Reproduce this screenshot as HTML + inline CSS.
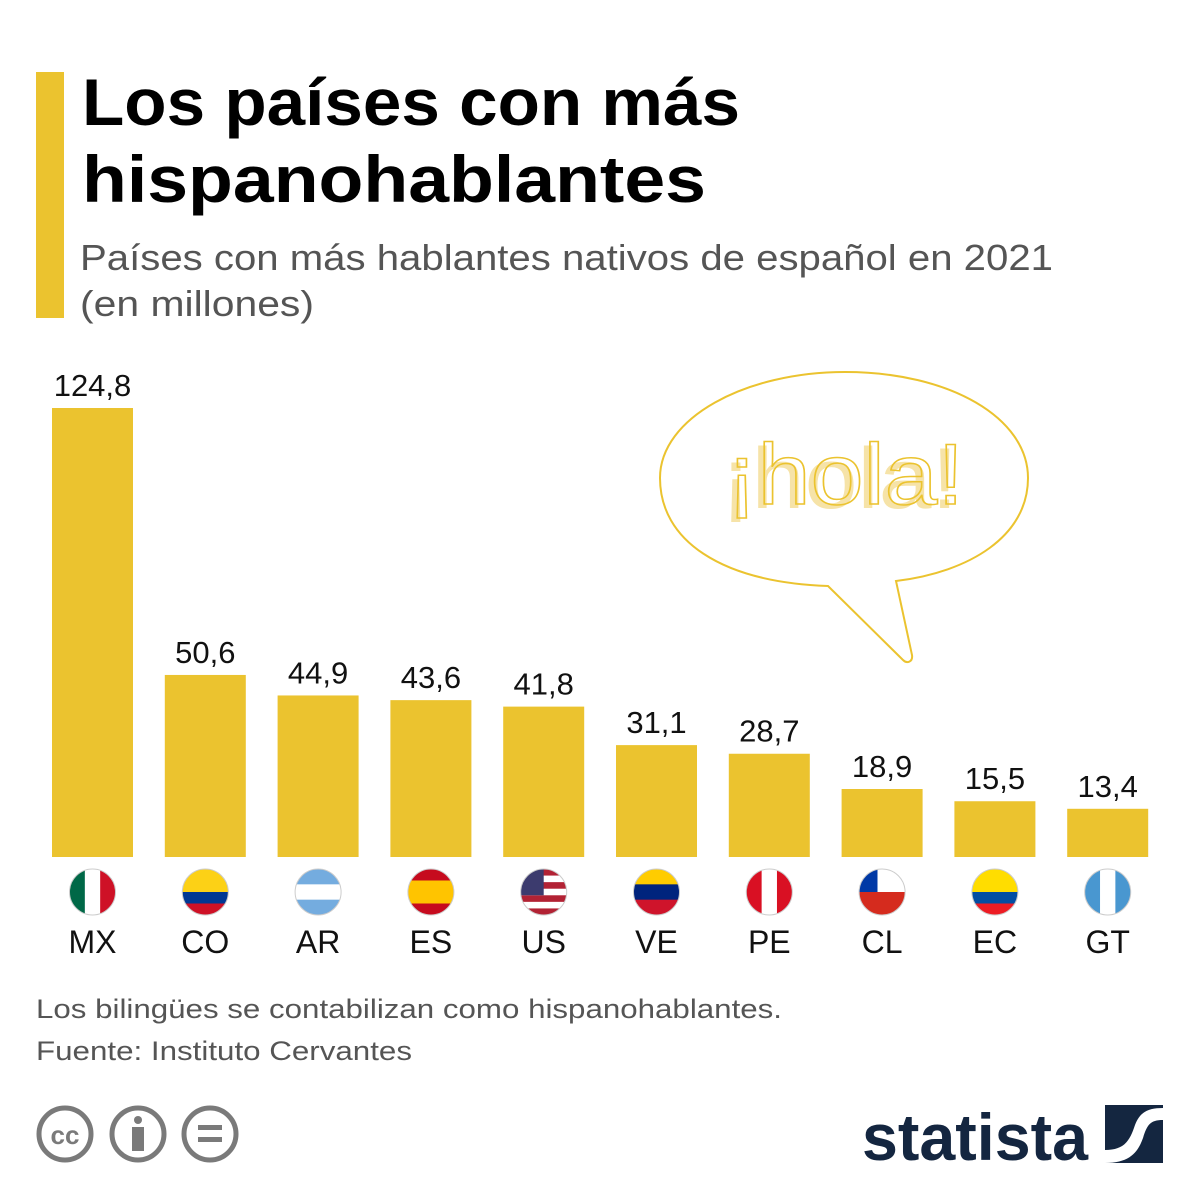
<!DOCTYPE html>
<html><head><meta charset="utf-8"><style>
body{margin:0;width:1200px;height:1200px;background:#fff;overflow:hidden;font-family:"Liberation Sans",sans-serif;}
svg{display:block}
</style></head><body>
<svg id="chart" width="1200" height="1200" xmlns="http://www.w3.org/2000/svg">
<rect x="36" y="72" width="28" height="246" fill="#EBC32F"/>
<text x="82" y="125" font-size="66" font-weight="bold" fill="#000" textLength="658" lengthAdjust="spacingAndGlyphs">Los países con más</text>
<text x="82" y="202" font-size="66" font-weight="bold" fill="#000" textLength="624" lengthAdjust="spacingAndGlyphs">hispanohablantes</text>
<text x="80" y="270" font-size="36" fill="#555" textLength="973" lengthAdjust="spacingAndGlyphs">Países con más hablantes nativos de español en 2021</text>
<text x="80" y="316" font-size="36" fill="#555" textLength="234" lengthAdjust="spacingAndGlyphs">(en millones)</text>
<g id="bars"></g>
<g>
<path d="M828,586 C720,582 660,540 660,478 C660,418 745,372 845,372 C950,372 1028,418 1028,478 C1028,536 970,572 896,581 L912,655 C913,662 907,664 903,660 Z" fill="#fff" stroke="#EBC32F" stroke-width="2"/>
<text x="720" y="508" font-size="86" fill="#F6E3A8" textLength="238" lengthAdjust="spacingAndGlyphs">¡hola!</text>
<text x="726" y="504" font-size="86" fill="none" stroke="#EBC32F" stroke-width="1.5" textLength="238" lengthAdjust="spacingAndGlyphs">¡hola!</text>
</g>
<text x="36" y="1018" font-size="27" fill="#555" textLength="746" lengthAdjust="spacingAndGlyphs">Los bilingües se contabilizan como hispanohablantes.</text>
<text x="36" y="1060" font-size="27" fill="#555" textLength="376" lengthAdjust="spacingAndGlyphs">Fuente: Instituto Cervantes</text>
<g fill="none" stroke="#7a7a7a" stroke-width="5">
<circle cx="65" cy="1134" r="26"/><text x="65" y="1144" font-size="26" font-weight="bold" text-anchor="middle" fill="#7a7a7a" stroke="none">cc</text>
<circle cx="138" cy="1134" r="26"/><circle cx="138" cy="1120" r="4" fill="#7a7a7a" stroke="none"/><rect x="132" y="1127" width="12" height="24" fill="#7a7a7a" stroke="none"/>
<circle cx="210" cy="1134" r="26"/><rect x="198" y="1125" width="24" height="5" fill="#7a7a7a" stroke="none"/><rect x="198" y="1137" width="24" height="5" fill="#7a7a7a" stroke="none"/>
</g>
<text x="862" y="1160" font-size="66" font-weight="bold" fill="#142640" textLength="226" lengthAdjust="spacingAndGlyphs">statista</text>
<g>
<rect x="1105" y="1105" width="58" height="58" fill="#142640"/>
<path d="M1105,1150 C1125,1150 1130,1140 1135,1125 C1140,1112 1148,1108 1163,1108 L1163,1120 C1150,1120 1147,1125 1143,1138 C1138,1152 1130,1163 1105,1163 Z" fill="#fff"/>
</g>
</svg>
<script>
const categories=["MX","CO","AR","ES","US","VE","PE","CL","EC","GT"];
const values=[124.8,50.6,44.9,43.6,41.8,31.1,28.7,18.9,15.5,13.4];
const labels=["124,8","50,6","44,9","43,6","41,8","31,1","28,7","18,9","15,5","13,4"];
const NS="http://www.w3.org/2000/svg";
const base=857, scale=449/124.8, x0=52, pitch=112.8, bw=81;
const yS=v=>base-v*scale, xS=i=>x0+i*pitch;
const g=document.getElementById('bars');
function el(t,a){const e=document.createElementNS(NS,t);for(const k in a)e.setAttribute(k,a[k]);return e;}
const flags={
MX:[["#006847",0,1/3],["#fff",1/3,1/3],["#CE1126",2/3,1/3],"v"],
CO:[["#FCD116",0,.5],["#003893",.5,.25],["#CE1126",.75,.25]],
AR:[["#74ACDF",0,1/3],["#fff",1/3,1/3],["#74ACDF",2/3,1/3]],
ES:[["#C60B1E",0,.25],["#FFC400",.25,.5],["#C60B1E",.75,.25]],
US:[["#B22234",0,1/7],["#fff",1/7,1/7],["#B22234",2/7,1/7],["#fff",3/7,1/7],["#B22234",4/7,1/7],["#fff",5/7,1/7],["#B22234",6/7,1/7]],
VE:[["#FFCC00",0,1/3],["#00247D",1/3,1/3],["#CF142B",2/3,1/3]],
PE:[["#D91023",0,1/3],["#fff",1/3,1/3],["#D91023",2/3,1/3],"v"],
CL:[["#fff",0,.5],["#D52B1E",.5,.5]],
EC:[["#FFDD00",0,.5],["#034EA2",.5,.25],["#ED1C24",.75,.25]],
GT:[["#4997D0",0,1/3],["#fff",1/3,1/3],["#4997D0",2/3,1/3],"v"]};
categories.forEach((c,i)=>{
 const x=xS(i), y=yS(values[i]);
 const r=el('rect',{x:x,y:y,width:bw,height:base-y,fill:'#EBC32F'});
 
 
 g.appendChild(r);
 const t=el('text',{x:x+bw/2,y:y-12,'font-size':31,'text-anchor':'middle',fill:'#111'});
 t.textContent=labels[i];
 
 
 g.appendChild(t);
 const cx=x+bw/2, cy=892, R=23;
 const fg=el('g',{});
 
 
 const id='clip'+i;
 const cp=el('clipPath',{id:id}); cp.appendChild(el('circle',{cx:cx,cy:cy,r:R})); fg.appendChild(cp);
 const inner=el('g',{'clip-path':'url(#'+id+')'});
 const f=flags[c]; const vert=f[f.length-1]==="v";
 f.forEach(s=>{if(typeof s==="string")return;
  inner.appendChild(vert?el('rect',{x:cx-R+s[1]*2*R,y:cy-R,width:s[2]*2*R+0.5,height:2*R,fill:s[0]}):el('rect',{x:cx-R,y:cy-R+s[1]*2*R,width:2*R,height:s[2]*2*R+0.5,fill:s[0]}));});
 if(c==="US")inner.appendChild(el('rect',{x:cx-R,y:cy-R,width:R,height:R*8/7,fill:'#3C3B6E'}));
 if(c==="CL")inner.appendChild(el('rect',{x:cx-R,y:cy-R,width:R*0.8,height:R,fill:'#0039A6'}));
 fg.appendChild(inner);
 fg.appendChild(el('circle',{cx:cx,cy:cy,r:R,fill:'none',stroke:'#ccc','stroke-width':1}));
 g.appendChild(fg);
 const ct=el('text',{x:cx,y:953,'font-size':32,'text-anchor':'middle',fill:'#111'});
 ct.textContent=c;
 
 
 g.appendChild(ct);
});
</script>
</body></html>
